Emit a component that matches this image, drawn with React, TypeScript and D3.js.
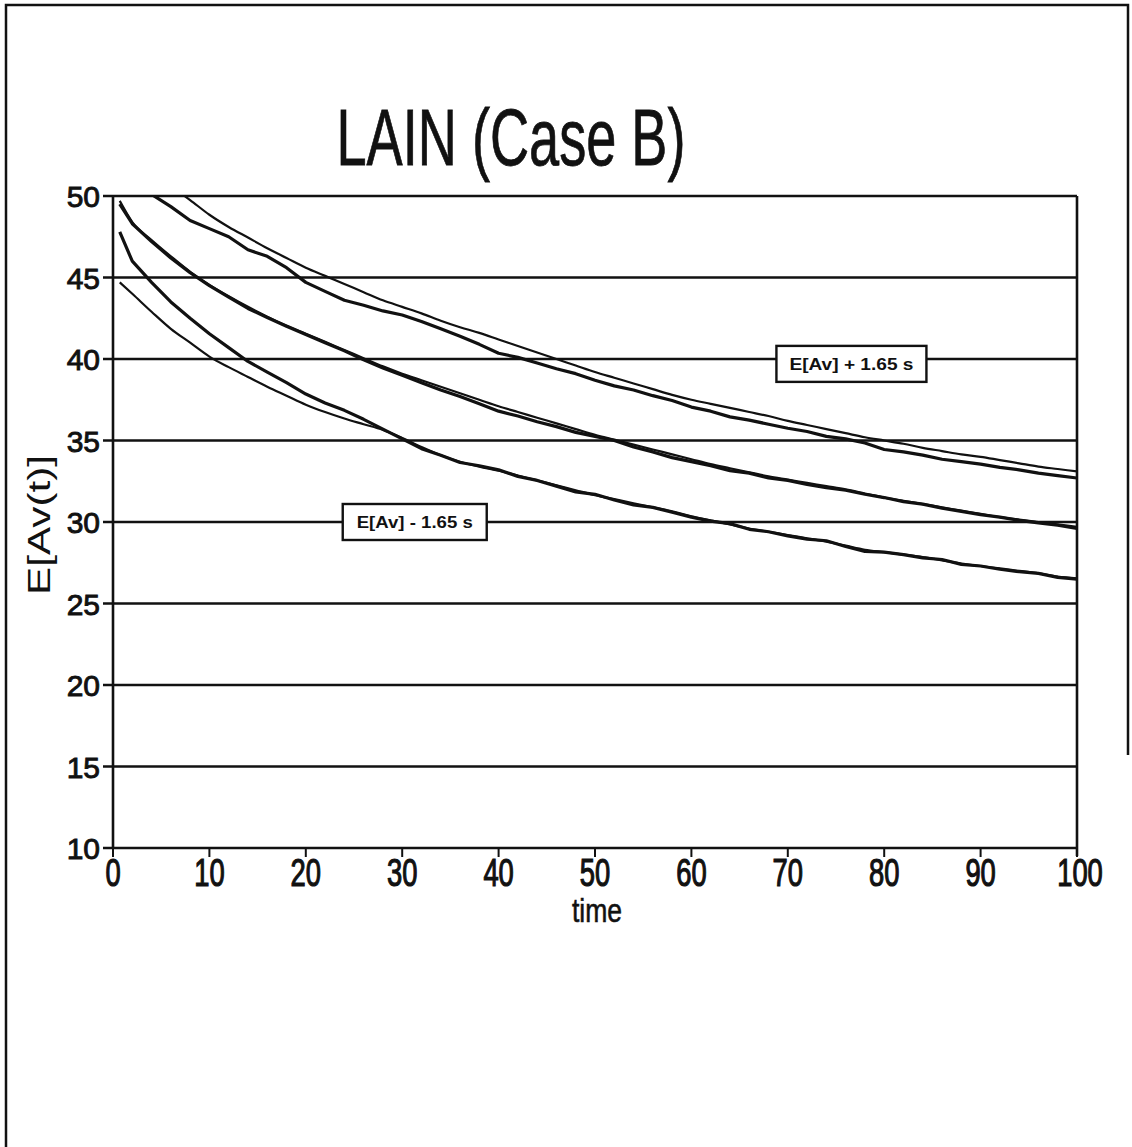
import React, { useRef, useEffect } from 'react'
import * as d3 from 'd3'

// time grid shared by all six curves
const TIME = [0.7, 2, 4, 6, 8, 10, 12, 14, 16, 18, 20, 22, 24, 26, 28, 30, 32, 34, 36, 38, 40, 42, 44, 46, 48, 50,
  52, 54, 56, 58, 60, 62, 64, 66, 68, 70, 72, 74, 76, 78, 80, 82, 84, 86, 88, 90, 92, 94, 96, 98, 100]

// E[Av] + 1.65 s
const UPPER_THEO = [null, null, null, 50.6, 49.75, 48.85, 48.1, 47.45, 46.8, 46.2, 45.6, 45.1, 44.6, 44.1, 43.6, 43.2,
  42.8, 42.35, 41.95, 41.6, 41.2, 40.8, 40.4, 40.0, 39.6, 39.2, 38.85, 38.5, 38.15, 37.8, 37.5, 37.25, 37.0, 36.75,
  36.5, 36.2, 35.95, 35.7, 35.45, 35.2, 35.0, 34.8, 34.55, 34.35, 34.15, 34.0, 33.8, 33.6, 33.4, 33.25, 33.1]
const UPPER_SIM = [null, null, 50.1, 49.35, 48.5, 48.0, 47.5, 46.7, 46.3, 45.6, 44.7, 44.15, 43.6, 43.3, 42.95, 42.7,
  42.3, 41.85, 41.4, 40.9, 40.35, 40.1, 39.75, 39.4, 39.1, 38.7, 38.35, 38.1, 37.75, 37.45, 37.05, 36.8, 36.45, 36.25,
  36.0, 35.75, 35.55, 35.25, 35.1, 34.85, 34.45, 34.3, 34.1, 33.85, 33.7, 33.55, 33.35, 33.2, 33.0, 32.85, 32.7]

// E[Av]
const MEAN_THEO = [49.7, 48.4, 47.3, 46.3, 45.35, 44.55, 43.85, 43.2, 42.6, 42.05, 41.55, 41.05, 40.55, 40.05, 39.55,
  39.1, 38.7, 38.3, 37.9, 37.5, 37.1, 36.75, 36.4, 36.05, 35.7, 35.35, 35.05, 34.75, 34.45, 34.15, 33.85, 33.55, 33.3,
  33.05, 32.8, 32.6, 32.4, 32.2, 32.0, 31.75, 31.5, 31.3, 31.1, 30.9, 30.7, 30.5, 30.3, 30.15, 30.0, 29.85, 29.7]
const MEAN_SIM = [49.5, 48.3, 47.2, 46.2, 45.3, 44.5, 43.8, 43.1, 42.55, 42.0, 41.5, 41.0, 40.5, 39.95, 39.45, 39.0,
  38.55, 38.1, 37.7, 37.25, 36.8, 36.5, 36.15, 35.85, 35.5, 35.25, 35.0, 34.6, 34.3, 33.95, 33.7, 33.45, 33.15, 33.0,
  32.7, 32.55, 32.3, 32.1, 31.95, 31.7, 31.5, 31.25, 31.1, 30.85, 30.65, 30.45, 30.3, 30.1, 29.95, 29.8, 29.6]

// E[Av] - 1.65 s
const LOWER_THEO = [44.7, 44.0, 42.9, 41.85, 41.0, 40.15, 39.5, 38.9, 38.3, 37.75, 37.2, 36.75, 36.35, 36.0, 35.65,
  35.15, 34.6, 34.1, 33.7, 33.4, 33.15, 32.85, 32.55, 32.25, 31.95, 31.65, 31.4, 31.15, 30.9, 30.65, 30.35, 30.1, 29.85,
  29.6, 29.4, 29.2, 29.0, 28.8, 28.55, 28.3, 28.15, 28.0, 27.85, 27.65, 27.45, 27.3, 27.15, 27.0, 26.85, 26.65, 26.55]
const LOWER_SIM = [47.8, 46.0, 44.7, 43.5, 42.5, 41.55, 40.7, 39.85, 39.2, 38.55, 37.85, 37.3, 36.85, 36.3, 35.7, 35.1,
  34.5, 34.1, 33.65, 33.45, 33.2, 32.8, 32.55, 32.2, 31.85, 31.7, 31.35, 31.05, 30.9, 30.6, 30.3, 30.05, 29.9, 29.55,
  29.4, 29.15, 28.95, 28.85, 28.5, 28.2, 28.15, 28.0, 27.8, 27.7, 27.4, 27.3, 27.1, 26.95, 26.85, 26.6, 26.5]

const X_TICKS = [0, 10, 20, 30, 40, 50, 60, 70, 80, 90, 100]
const Y_TICKS = [10, 15, 20, 25, 30, 35, 40, 45, 50]

const LABELS = [
  { text: 'E[Av] + 1.65 s', t: 76.6, v: 39.7 },
  { text: 'E[Av] - 1.65 s', t: 31.3, v: 30 },
]

const W = 1132
const H = 1147

const App = () => {
  const svgRef = useRef<SVGSVGElement | null>(null)

  useEffect(() => {
    const svg = d3.select(svgRef.current)
    svg.selectAll('*').remove()

    const left = 113, right = 1077, top = 196, bottom = 848
    const x = d3.scaleLinear().domain([0, 100]).range([left, right])
    const y = d3.scaleLinear().domain([10, 50]).range([bottom, top])
    const font = 'Liberation Sans, Arial, Helvetica, sans-serif'

    svg.append('rect').attr('width', W).attr('height', H).attr('fill', '#fff')

    // page frame of the scan
    svg.append('path')
      .attr('d', `M6,${H} L6,5 L1128,5 L1128,755`)
      .attr('fill', 'none').attr('stroke', '#111').attr('stroke-width', 2.5)

    // title
    svg.append('text')
      .attr('x', 511).attr('y', 165)
      .attr('text-anchor', 'middle')
      .attr('font-family', font).attr('font-size', 80)
      .attr('textLength', 349).attr('lengthAdjust', 'spacingAndGlyphs')
      .attr('fill', '#111').attr('stroke', '#111').attr('stroke-width', 0.8)
      .text('LAIN (Case B)')

    // horizontal grid lines
    svg.append('g').selectAll('line').data(Y_TICKS).join('line')
      .attr('x1', left - 10).attr('x2', right)
      .attr('y1', d => y(d)).attr('y2', d => y(d))
      .attr('stroke', '#111').attr('stroke-width', 2.4)

    // y axis + right border
    svg.append('line').attr('x1', left).attr('x2', left).attr('y1', top).attr('y2', bottom)
      .attr('stroke', '#111').attr('stroke-width', 2.6)
    svg.append('line').attr('x1', right).attr('x2', right).attr('y1', top).attr('y2', bottom + 8)
      .attr('stroke', '#111').attr('stroke-width', 2.6)

    // y tick labels
    svg.append('g').selectAll('text').data(Y_TICKS).join('text')
      .attr('x', left - 13).attr('y', d => y(d) + 11)
      .attr('text-anchor', 'end')
      .attr('font-family', font).attr('font-size', 30)
      .attr('fill', '#111').attr('stroke', '#111').attr('stroke-width', 0.9)
      .text(d => d)

    // x ticks
    svg.append('g').selectAll('line').data(X_TICKS).join('line')
      .attr('x1', d => x(d)).attr('x2', d => x(d))
      .attr('y1', bottom).attr('y2', bottom + 9)
      .attr('stroke', '#111').attr('stroke-width', 2)
    svg.append('g').selectAll('text').data(X_TICKS).join('text')
      .attr('transform', d => `translate(${x(d) + (d === 100 ? 3 : 0)},${bottom + 38}) scale(0.72,1)`)
      .attr('text-anchor', 'middle')
      .attr('font-family', font).attr('font-size', 38)
      .attr('fill', '#111').attr('stroke', '#111').attr('stroke-width', 1.2)
      .text(d => d)

    // axis titles
    svg.append('text')
      .attr('transform', `translate(597,922) scale(0.78,1)`)
      .attr('text-anchor', 'middle')
      .attr('font-family', font).attr('font-size', 34)
      .attr('fill', '#111').attr('stroke', '#111').attr('stroke-width', 0.6)
      .text('time')
    svg.append('text')
      .attr('transform', `translate(50,525) rotate(-90)`)
      .attr('text-anchor', 'middle')
      .attr('font-family', font).attr('font-size', 31)
      .attr('textLength', 140).attr('lengthAdjust', 'spacingAndGlyphs')
      .attr('fill', '#111')
      .text('E[Av(t)]')

    // curves
    svg.append('clipPath').attr('id', 'plot-clip')
      .append('rect').attr('x', left).attr('y', top).attr('width', right - left).attr('height', bottom - top)

    const smooth = d3.line<number | null>()
      .defined(d => d != null)
      .x((_, i) => x(TIME[i]))
      .y(d => y(d as number))
      .curve(d3.curveMonotoneX)
    const rough = d3.line<number | null>()
      .defined(d => d != null)
      .x((_, i) => x(TIME[i]))
      .y(d => y(d as number))

    const curves = svg.append('g').attr('clip-path', 'url(#plot-clip)')
    ;[UPPER_THEO, MEAN_THEO, LOWER_THEO].forEach(s => {
      curves.append('path').attr('d', smooth(s)).attr('fill', 'none')
        .attr('stroke', '#111').attr('stroke-width', 2.2)
    })
    ;[UPPER_SIM, MEAN_SIM, LOWER_SIM].forEach(s => {
      curves.append('path').attr('d', rough(s)).attr('fill', 'none')
        .attr('stroke', '#111').attr('stroke-width', 3.2).attr('stroke-linejoin', 'round')
    })

    // annotation boxes
    const lab = svg.append('g').selectAll('g').data(LABELS).join('g')
      .attr('transform', d => `translate(${x(d.t)},${y(d.v)})`)
    lab.append('rect')
      .attr('x', d => (d.text.includes('+') ? -75 : -72)).attr('y', -18)
      .attr('width', d => (d.text.includes('+') ? 150 : 144)).attr('height', 36)
      .attr('fill', '#fff').attr('stroke', '#111').attr('stroke-width', 2.4)
    lab.append('text')
      .attr('y', 6)
      .attr('text-anchor', 'middle')
      .attr('font-family', font).attr('font-size', 17).attr('font-weight', 'bold')
      .attr('textLength', d => (d.text.includes('+') ? 124 : 116)).attr('lengthAdjust', 'spacingAndGlyphs')
      .attr('fill', '#111')
      .text(d => d.text)
  }, [])

  return (
    <svg ref={svgRef} width={W} height={H}
      style={{ position: 'absolute', left: 0, top: 0, display: 'block' }} />
  )
}

export default App
